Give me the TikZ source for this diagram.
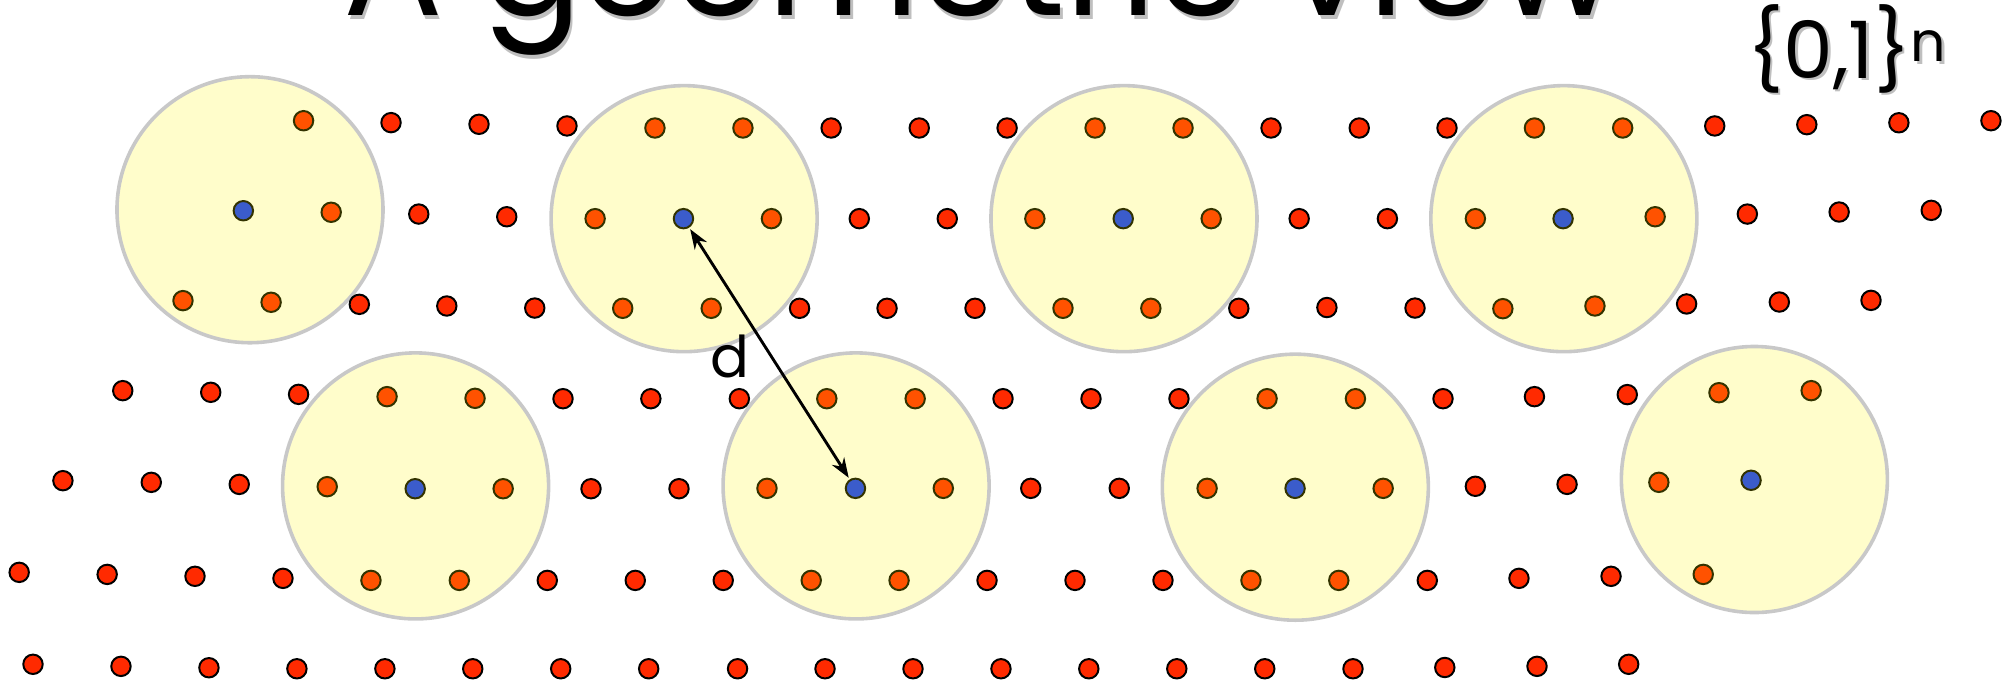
\documentclass[tikz,border=0pt]{standalone}
\usepackage{fontspec}
\setmainfont{Poppins}
\usetikzlibrary{arrows.meta}
\definecolor{cfill}{HTML}{FFFDCB}
\definecolor{cedge}{HTML}{C8C8C8}
\definecolor{dred}{HTML}{FF2A00}
\definecolor{dorange}{HTML}{FF5200}
\definecolor{dblue}{HTML}{3B5CCB}
\definecolor{dolive}{HTML}{333300}
\begin{document}
\begin{tikzpicture}[x=0.025cm,y=-0.025cm,
  ball/.style={circle, fill=cfill, draw=cedge, line width=2pt, minimum size=5.2cm, inner sep=0pt},
  dotbase/.style={circle, minimum size=0.38cm, inner sep=0pt, line width=1.1pt},
  rdot/.style={dotbase, fill=dred, draw=black},
  odot/.style={dotbase, fill=dorange, draw=dolive},
  bdot/.style={dotbase, fill=dblue, draw=dolive},
  shadowtxt/.style={text=black, opacity=0.25},
  dist/.style={<->, >={Stealth[length=11pt, width=8pt]}, line width=1.6pt, shorten <=1pt, shorten >=1pt}]
\useasboundingbox (0,0) rectangle (1568,533);

% title (cropped by the page)
\node[shadowtxt, anchor=base west, inner sep=0pt] (titlesh) at (270,15) {\resizebox{24.9cm}{!}{A geometric view}};
\node[anchor=base west, inner sep=0pt] (title) at (268,12) {\resizebox{24.9cm}{!}{A geometric view}};

% space label
\node[shadowtxt, anchor=base west, inner sep=0pt, font=\fontsize{44}{48}\selectfont] (spacesh) at (1368,63) {\{0,1\}\textsuperscript{n}};
\node[anchor=base west, inner sep=0pt, font=\fontsize{44}{48}\selectfont] (space) at (1366,61) {\{0,1\}\textsuperscript{n}};

% balls
\node[ball] (c1) at (195.5,164) {};
\node[ball] (c2) at (535,171) {};
\node[ball] (c3) at (879,171) {};
\node[ball] (c4) at (1223,171) {};
\node[ball] (c5) at (325,380) {};
\node[ball] (c6) at (669.5,380) {};
\node[ball] (c7) at (1013,381) {};
\node[ball] (c8) at (1372,375) {};

% red points
\foreach \x/\y [count=\i] in {
 305.8/95.9, 374.6/97.2, 443.4/98.5, 650/100.1, 718.9/100.1, 787.6/100.1, 994/100.1, 1063/100.1, 1131.6/100.1, 1341/98.5, 1413/97.5, 1485/96, 1557/94.4,
 327.5/167.4, 396.3/169.5, 672/171, 740.8/171, 1016/171, 1085/171, 1366.5/167.4, 1438.3/165.8, 1510.3/164.5,
 281/238, 349.4/239.3, 418.2/240.9, 625.3/241.1, 693.7/241.1, 762.5/241.1, 968.8/241.1, 1037.7/240.5, 1106.6/240.9, 1319/237.7, 1391.5/236.2, 1463.2/234.9,
 96/305.5, 164.8/306.8, 233.5/308.4, 440.3/311.8, 509/311.8, 578.2/311.8, 784.4/311.8, 853.2/311.8, 922/311.8, 1128.5/311.8, 1200/310.2, 1272.6/308.6,
 49.2/375.9, 118.3/377.2, 187.1/378.8, 462.2/382.2, 531/382.2, 806.1/381.9, 875.3/381.9, 1153.8/380.3, 1225.5/378.8,
 15/447.6, 83.8/449.2, 152.5/450.7, 221.3/452.3, 428/453.9, 496.8/453.9, 565.6/453.9, 771.9/453.9, 840.7/453.9, 909.5/453.9, 1116.2/453.9, 1187.9/452.3, 1259.9/450.7,
 25.8/519.5, 94.6/521.1, 163.4/522.2, 232.2/523, 301/523, 369.7/523, 438.5/523, 507.3/523, 576.8/523, 645.2/523, 714/523, 782.8/523, 851.5/523, 920.3/523, 989.1/523, 1058.1/523, 1129.9/522, 1202/521.1, 1273.7/519.5}
 {\node[rdot] (r\i) at (\x,\y) {};}

% orange points (inside the balls)
\foreach \x/\y [count=\i] in {
 237.4/94.4, 512.2/100.1, 581/100.1, 856.4/100.1, 925.2/100.1, 1200/100.1, 1269/100.1,
 259/166, 465.4/171, 603.3/171, 809.3/171, 947.2/171, 1153.8/171, 1294.4/169.5,
 143.1/235.1, 212/236.4, 487/241.1, 556.2/241.1, 831.3/241.1, 900/241.1, 1175.3/241.4, 1247.3/239.3,
 302.7/310.2, 371.5/311.5, 646.6/311.8, 715.7/311.8, 990.9/311.8, 1060/311.8, 1344.3/307.1, 1416.4/305.5,
 255.9/380.6, 393.5/382.2, 599.8/381.9, 737.7/381.9, 944/381.9, 1081.7/381.9, 1297.3/377.2,
 290.1/453.9, 359.2/453.9, 634.4/453.9, 703.1/453.9, 978.3/453.9, 1047/453.9, 1332/449.2}
 {\node[odot] (o\i) at (\x,\y) {};}

% blue centres
\node[bdot] (b1) at (190.3,164.8) {};
\node[bdot] (b2) at (534.5,171) {};
\node[bdot] (b3) at (878.4,171) {};
\node[bdot] (b4) at (1222.4,171) {};
\node[bdot] (b5) at (324.7,382.2) {};
\node[bdot] (b6) at (669,381.9) {};
\node[bdot] (b7) at (1012.8,381.9) {};
\node[bdot] (b8) at (1369.4,375.6) {};

% distance
\draw[dist] (b2) -- (b6);
\node[anchor=base, inner sep=0pt, font=\fontsize{32}{36}\selectfont] (dlab) at (571,295) {d};
\end{tikzpicture}
\end{document}
